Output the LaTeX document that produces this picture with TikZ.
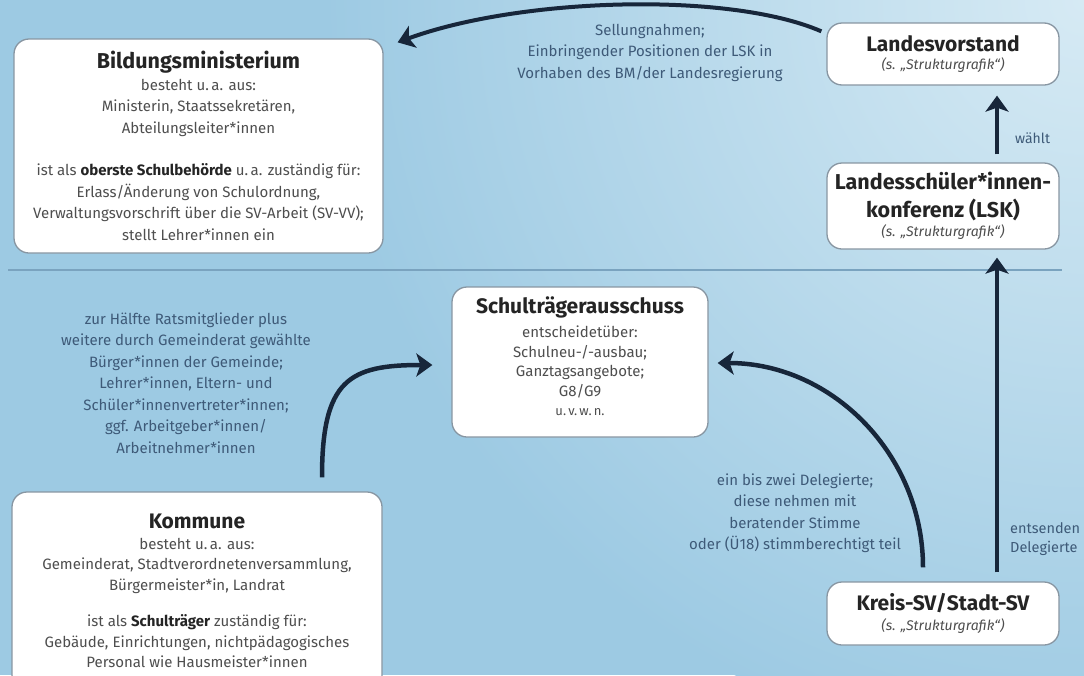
\documentclass[tikz,border=0pt]{standalone}
\usepackage{fontspec}
\setmainfont{Fira Sans}
\usetikzlibrary{arrows.meta}
\definecolor{bg}{HTML}{9DCAE3}
\definecolor{bglight}{HTML}{D6EAF4}
\definecolor{arrowc}{HTML}{17263A}
\definecolor{boxline}{HTML}{8896A2}
\definecolor{outtext}{HTML}{3E5A78}
\definecolor{intext}{HTML}{4E4E4E}
\definecolor{titletext}{HTML}{242424}
\definecolor{divider}{HTML}{7AA3BF}
\begin{document}
\begin{tikzpicture}[x=1pt,y=-1pt,
  box/.style={draw=boxline, line width=1.3pt, fill=white, rounded corners=15pt, align=center, inner sep=0pt, text=intext, font=\fontsize{15}{21.5}\selectfont},
  arr/.style={line width=4.5pt, draw=arrowc, -{Stealth[length=16pt,width=23pt,inset=4pt]}},
  lbl/.style={align=center, text=outtext, font=\fontsize{15}{21.5}\selectfont, inner sep=0pt},
]
\useasboundingbox (0,0) rectangle (1084,675);
\clip (0,0) rectangle (1084,675);
\fill[bg] (0,0) rectangle (1084,675);
\shade[inner color=bglight, outer color=bg] (1084,0) circle (760);
\draw[divider, line width=1.2pt] (8,270) -- (1062,270);

\newcommand{\ttl}[1]{{\fontsize{21}{24}\selectfont\bfseries\color{titletext}#1}}
\newcommand{\sub}[1]{{\fontsize{14}{16}\selectfont\itshape #1}}

\node[box, minimum width=369pt, minimum height=214pt] (bm) at (198.5,146)
 {{\fontsize{21.5}{24}\selectfont\bfseries\color{titletext}Bildungsministerium}\\
  besteht u.\,a. aus:\\
  Ministerin, Staatssekretären,\\
  Abteilungsleiter*innen\\[21pt]
  ist als {\bfseries\color{titletext}oberste Schulbehörde} u.\,a. zuständig für:\\
  Erlass/Änderung von Schulordnung,\\
  Verwaltungsvorschrift über die SV-Arbeit (SV-VV);\\
  stellt Lehrer*innen ein};

\node[box, minimum width=232pt, minimum height=62pt] (lv) at (943,54)
 {\ttl{Landesvorstand}\\[-3pt] \sub{(s. „Strukturgrafik“)}};

\node[box, minimum width=232pt, minimum height=86pt] (lsk) at (943,206)
 {{\fontsize{21.5}{24}\selectfont\bfseries\color{titletext}Landesschüler*innen-}\\[6pt]
  {\fontsize{21.5}{24}\selectfont\bfseries\color{titletext}konferenz (LSK)}\\[-2pt] \sub{(s. „Strukturgrafik“)}};

\node[box, minimum width=232pt, minimum height=63pt] (ksv) at (943,613.5)
 {\ttl{Kreis-SV/Stadt-SV}\\[-2pt] \sub{(s. „Strukturgrafik“)}};

\node[box, minimum width=256pt, minimum height=150pt, font=\fontsize{15}{19.5}\selectfont] (st) at (580,362)
 {\ttl{Schulträgerausschuss}\\[5pt]
  entscheidetüber:\\
  Schulneu-/-ausbau;\\
  Ganztagsangebote;\\
  G8/G9\\
  {\fontsize{13}{14}\selectfont u.\,v.\,w.\,n.}\\[-8pt]\mbox{}};

\node[box, minimum width=370pt, minimum height=198pt, font=\fontsize{15}{20.5}\selectfont] (kom) at (197,591)
 {\ttl{Kommune}\\
  besteht u.\,a. aus:\\
  Gemeinderat, Stadtverordnetenversammlung,\\
  Bürgermeister*in, Landrat\\[16pt]
  ist als {\bfseries\color{titletext}Schulträger} zuständig für:\\
  Gebäude, Einrichtungen, nichtpädagogisches\\
  Personal wie Hausmeister*innen};

\node[lbl] (ttop) at (650,52.5)
 {Sellungnahmen;\\Einbringender Positionen der LSK in\\Vorhaben des BM/der Landesregierung};
\node[lbl] (tleft) at (186,383)
 {zur Hälfte Ratsmitglieder plus\\weitere durch Gemeinderat gewählte\\Bürger*innen der Gemeinde;\\Lehrer*innen, Eltern- und\\Schüler*innenvertreter*innen;\\ggf. Arbeitgeber*innen/\\Arbeitnehmer*innen};
\node[lbl] (tdel) at (795,513)
 {ein bis zwei Delegierte;\\diese nehmen mit\\beratender Stimme\\oder (Ü18) stimmberechtigt teil};
\node[lbl, anchor=west, font=\fontsize{14}{16}\selectfont] (twaehlt) at (1015,138) {wählt};
\node[lbl, align=left, anchor=west, font=\fontsize{14.5}{19}\selectfont] (tents) at (1010,539) {entsenden\\Delegierte};

\draw[arr] ([xshift=54pt,yshift=8pt]lsk.north) -- ([xshift=54pt,yshift=-10pt]lv.south);
\draw[arr] ([xshift=54pt,yshift=9pt]ksv.north) -- ([xshift=54pt,yshift=-8pt]lsk.south);
\draw[arr] ([xshift=-20pt,yshift=14pt]ksv.north) .. controls +(0,-113) and +(114,0) .. ([xshift=9pt,yshift=-1pt]st.east);
\draw[arr] ([xshift=125pt,yshift=14pt]kom.north) .. controls +(0,-98) and +(-83,0) .. ([xshift=-19pt,yshift=-3pt]st.west);
\draw[arr, line width=4pt] ([xshift=-5pt,yshift=-9pt]lv.north west) .. controls +(-92,-40) and +(123,-45) .. ([xshift=14pt,yshift=-4pt]bm.north east);
\end{tikzpicture}
\end{document}
